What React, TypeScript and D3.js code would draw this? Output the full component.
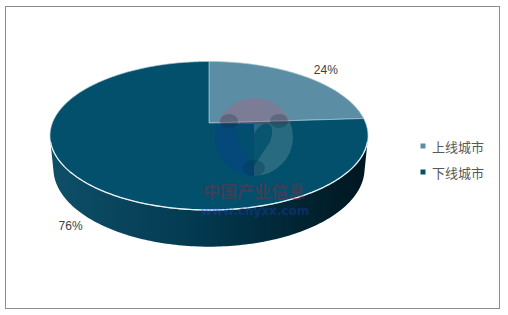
import React from 'react';
import * as d3 from 'd3';

const categories: string[] = ['上线城市', '下线城市'];
const values: number[] = [24, 76];
const valueLabels: string[] = ['24%', '76%'];
const colors: string[] = ['#5b8ea5', '#02506b'];

const W = 508;
const H = 315;
const CX = 209;
const CY = 123;
const ALPHA = (27.4 * Math.PI) / 180;
const DIST = 5.171;
const FOCAL = 809.8;
const THICK = 0.2374;

function project(u: number, v: number, z: number): [number, number] {
  const d = DIST + v * Math.cos(ALPHA) - z * Math.sin(ALPHA);
  return [CX + (FOCAL * u) / d, CY - (FOCAL * (z * Math.cos(ALPHA) + v * Math.sin(ALPHA))) / d];
}
function rim(theta: number, z: number, r = 1): [number, number] {
  return project(r * Math.sin(theta), r * Math.cos(theta), z);
}
function arcPts(a0: number, a1: number, z: number): [number, number][] {
  const n = Math.max(2, Math.ceil(Math.abs(a1 - a0) / (Math.PI / 180)));
  return d3.range(n + 1).map((i) => rim(a0 + ((a1 - a0) * i) / n, z));
}

const line = d3.line<[number, number]>().x((p) => p[0]).y((p) => p[1]);

export default function App() {
  const arcs = d3.pie<number>().sort(null).startAngle(0).endAngle(2 * Math.PI)(values);
  const vt = -1 / (DIST * Math.cos(ALPHA));
  const thR = Math.acos(vt);
  const thL = 2 * Math.PI - thR;

  const sides = arcs
    .map((a, i) => {
      const s = Math.max(a.startAngle, thR);
      const e = Math.min(a.endAngle, thL);
      if (e <= s) return null;
      const pts = [...arcPts(s, e, 0), ...arcPts(e, s, -THICK)];
      return { i, d: line(pts) + 'Z' };
    })
    .filter((x) => x) as { i: number; d: string }[];

  const tops = arcs.map((a, i) => {
    const pts = [project(0, 0, 0), ...arcPts(a.startAngle, a.endAngle, 0)];
    return { i, d: line(pts) + 'Z' };
  });

  const frontEdge = line(arcPts(thR + 0.03, thL - 0.03, 0));

  const labelPos = arcs.map((a) => {
    const mid = (a.startAngle + a.endAngle) / 2;
    const front = Math.cos(mid) < 0;
    const p = rim(mid, front ? -THICK : 0, front ? 1.17 : 1.2);
    return [p[0] + 5, p[1] + (front ? -5 : 2)];
  });

  return (
    <svg
      width={W}
      height={H}
      style={{ position: 'absolute', left: 0, top: 0, fontFamily: '"Liberation Sans", Arial, sans-serif' }}
    >
      <defs>
        <linearGradient id="sideGrad" gradientUnits="userSpaceOnUse" x1={50} y1={0} x2={368} y2={0}>
          <stop offset="0" stopColor="#0e4f68" />
          <stop offset="0.45" stopColor="#033a51" />
          <stop offset="1" stopColor="#00161f" />
        </linearGradient>
        <clipPath id="wmClip">
          <circle cx={254} cy={137} r={39} />
        </clipPath>
      </defs>
      <rect x={5.5} y={6.5} width={494} height={302} fill="#ffffff" stroke="#8c8c8c" strokeWidth={1} />

      {sides.map((s) => (
        <path key={'s' + s.i} d={s.d} fill="url(#sideGrad)" />
      ))}
      {tops.map((t) => (
        <path key={'t' + t.i} d={t.d} fill={colors[t.i]} stroke="#a9c8d6" strokeOpacity={0.7} strokeWidth={1} strokeLinejoin="round" />
      ))}
      <path d={frontEdge || ''} fill="none" stroke="#e8f0f4" strokeWidth={1.3} />

      {/* watermark */}
      <g opacity={0.85}>
        <g clipPath="url(#wmClip)">
          <rect x={215} y={98} width={78} height={26} fill="#b8607a" opacity={0.42} />
          <rect x={215} y={124} width={39} height={60} fill="#0a3c94" opacity={0.45} />
          <rect x={254} y={124} width={39} height={60} fill="#8fb0b8" opacity={0.32} />
          <path d="M254,134 C246,118 230,120 238,142 L254,166 L270,142 C278,120 262,118 254,134 Z" fill="#02506b" opacity={0.8} />
          <ellipse cx={229} cy={121} rx={9} ry={7} fill="#0c2c40" opacity={0.3} />
          <ellipse cx={279} cy={121} rx={9} ry={7} fill="#0c2c40" opacity={0.3} />
          <ellipse cx={254} cy={168} rx={11} ry={8} fill="#05304a" opacity={0.35} />
        </g>
        <text x={254} y={190} textAnchor="middle" dominantBaseline="central" fontSize={17} fontWeight="bold" fill="#962840" opacity={0.45} fontFamily='"Noto Sans CJK SC", sans-serif'>
          中国产业信息
        </text>
        <text x={255} y={211} textAnchor="middle" dominantBaseline="central" fontSize={12} fontWeight="bold" fill="#1e46c8" opacity={0.4} fontFamily='"DejaVu Sans", sans-serif'>
          www.chyxx.com
        </text>
      </g>

      {valueLabels.map((l, i) => (
        <text key={'l' + i} x={labelPos[i][0]} y={labelPos[i][1]} textAnchor="middle" dominantBaseline="central" fontSize={12} fill="#404040">
          {l}
        </text>
      ))}

      {categories.map((c, i) => (
        <g key={'g' + i} transform={`translate(420.5, ${146 + i * 26})`}>
          <rect x={0} y={-2.5} width={5} height={5} fill={colors[i]} />
          <text x={11.5} y={0} dominantBaseline="central" fontSize={13} fill="#595959" fontFamily='"Noto Sans CJK SC", sans-serif'>
            {c}
          </text>
        </g>
      ))}
    </svg>
  );
}
